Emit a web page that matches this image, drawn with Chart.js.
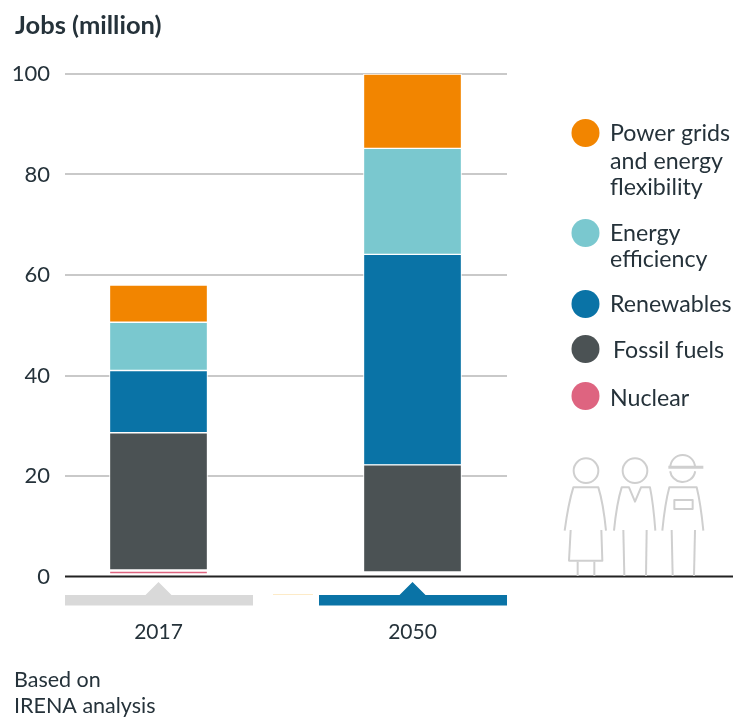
<!DOCTYPE html>
<html>
<head>
<meta charset="utf-8">
<script src="https://cdn.jsdelivr.net/npm/chart.js@4"></script>
<style>
html,body{margin:0;padding:0;background:#fff}
#wrap{width:733px;height:717px}
canvas{display:block}
</style>
</head>
<body>
<div id="wrap"><canvas id="c" width="733" height="717"></canvas></div>
<script>
// Jobs by energy segment, in millions; each entry is the [bottom, top] span of a segment.
const years = ['2017', '2050'];
const yTicks = [0, 20, 40, 60, 80, 100];
const nuclear = [[0.5, 1.1], null];
const fossilFuels = [[1.3, 28.6], [0.9, 22.2]];
const renewables = [[28.6, 41], [22.2, 64.1]];
const energyEfficiency = [[41, 50.6], [64.1, 85.2]];
const powerGrids = [[50.6, 58], [85.2, 100]];

const seriesNames = ['Nuclear', 'Fossil fuels', 'Renewables', 'Energy efficiency', 'Power grids and energy flexibility'];
const seriesValues = [nuclear, fossilFuels, renewables, energyEfficiency, powerGrids];
const seriesColors = ['#DE6480', '#4B5254', '#0A73A6', '#7AC8CF', '#F28500'];
const scenarioMarkerColors = ['#D9D9D9', '#0A73A6'];

const FONT = 'Lato, sans-serif';
const TEXT = '#25323A';

// Legend rows, top to bottom.
const legendRows = [
  {color: '#F28500', cy: 133, x: 610, lines: [['Power grids', 134], ['and energy', 162], ['flexibility', 188]]},
  {color: '#7AC8CF', cy: 233, x: 610, lines: [['Energy', 234], ['efficiency', 260]]},
  {color: '#0A73A6', cy: 304, x: 610, lines: [['Renewables', 305]]},
  {color: '#4B5254', cy: 349, x: 613, lines: [['Fossil fuels', 351]]},
  {color: '#DE6480', cy: 396, x: 610, lines: [['Nuclear', 399]]}
];

function stroke(ctx, pts) {
  ctx.beginPath();
  pts.forEach((p, i) => {
    if (i === 0) ctx.moveTo(p[0], p[1]);
    else if (p.length === 4) ctx.quadraticCurveTo(p[0], p[1], p[2], p[3]);
    else ctx.lineTo(p[0], p[1]);
  });
  ctx.stroke();
}

// Line-art group of three workers standing on the baseline.
function drawWorkers(ctx) {
  ctx.save();
  ctx.translate(530, 440);
  ctx.scale(1 / 3, 1 / 3);
  ctx.strokeStyle = '#CFCFCF';
  ctx.lineWidth = 6;
  ctx.lineJoin = 'round';
  // woman
  ctx.beginPath(); ctx.arc(168, 92, 37, 0, Math.PI * 2); ctx.stroke();
  stroke(ctx, [[104, 272], [115, 190, 130, 142], [205, 142], [220, 190, 228, 272]]);
  stroke(ctx, [[122, 270], [117, 362], [217, 362], [214, 270]]);
  stroke(ctx, [[143, 365], [143, 408]]);
  stroke(ctx, [[193, 365], [193, 408]]);
  // man in a suit
  ctx.beginPath(); ctx.arc(315, 92, 37, 0, Math.PI * 2); ctx.stroke();
  stroke(ctx, [[252, 272], [260, 190, 275, 142], [297, 142], [315, 185], [333, 142], [360, 142], [370, 190, 376, 272]]);
  stroke(ctx, [[280, 270], [283, 408]]);
  stroke(ctx, [[350, 270], [348, 408]]);
  // worker with a cap and badge
  ctx.beginPath(); ctx.arc(458, 88, 38, 0.15, Math.PI - 0.15); ctx.stroke();
  ctx.beginPath(); ctx.arc(458, 82, 37, Math.PI, 0); ctx.stroke();
  ctx.lineWidth = 9;
  stroke(ctx, [[415, 82], [520, 82]]);
  ctx.lineWidth = 6;
  stroke(ctx, [[397, 272], [405, 190, 418, 142], [500, 142], [512, 190, 520, 272]]);
  ctx.strokeRect(433, 180, 55, 27);
  stroke(ctx, [[425, 270], [428, 408]]);
  stroke(ctx, [[495, 270], [492, 408]]);
  ctx.restore();
}

const annotations = {
  id: 'annotations',
  afterDatasetsDraw(chart) {
    const {ctx, scales: {x, y}} = chart;
    const base = y.getPixelForValue(0);

    // baseline runs past the plot, under the workers
    ctx.save();
    ctx.strokeStyle = '#222';
    ctx.lineWidth = 2;
    ctx.beginPath(); ctx.moveTo(65, base); ctx.lineTo(733, base); ctx.stroke();

    // scenario markers below the baseline
    years.forEach((_, i) => {
      const cx = x.getPixelForValue(i);
      ctx.fillStyle = scenarioMarkerColors[i];
      ctx.beginPath();
      ctx.moveTo(cx - 93.5, base + 18.5);
      ctx.lineTo(cx - 13, base + 18.5);
      ctx.lineTo(cx, base + 5.5);
      ctx.lineTo(cx + 13, base + 18.5);
      ctx.lineTo(cx + 94.5, base + 18.5);
      ctx.lineTo(cx + 94.5, base + 29);
      ctx.lineTo(cx - 93.5, base + 29);
      ctx.closePath();
      ctx.fill();
    });
    ctx.strokeStyle = '#FDEBC8';
    ctx.lineWidth = 1;
    ctx.beginPath(); ctx.moveTo(273, 594.5); ctx.lineTo(313, 594.5); ctx.stroke();

    drawWorkers(ctx);

    // heading and source note
    ctx.textBaseline = 'middle';
    ctx.textAlign = 'left';
    ctx.fillStyle = TEXT;
    ctx.font = `bold 25.5px ${FONT}`;
    ctx.fillText('Jobs (million)', 15, 26);
    ctx.font = `21.5px ${FONT}`;
    ctx.fillText('Based on', 14, 680);
    ctx.fillText('IRENA analysis', 14, 706);

    // legend
    ctx.font = `23.2px ${FONT}`;
    legendRows.forEach(row => {
      ctx.fillStyle = row.color;
      ctx.beginPath(); ctx.arc(585.5, row.cy, 14, 0, Math.PI * 2); ctx.fill();
      ctx.fillStyle = TEXT;
      row.lines.forEach(([t, ly]) => ctx.fillText(t, row.x, ly));
    });
    ctx.restore();
  }
};

new Chart(document.getElementById('c'), {
  type: 'bar',
  data: {
    datasets: seriesValues.map((vals, i) => ({
      label: seriesNames[i],
      data: vals.map((v, k) => v && ({x: k, y: v})).filter(Boolean),
      backgroundColor: seriesColors[i],
      borderColor: '#fff',
      borderWidth: 1,
      borderSkipped: false,
      barThickness: 98
    }))
  },
  plugins: [annotations],
  options: {
    responsive: false,
    animation: false,
    layout: {padding: {top: 74, right: 226, bottom: 0, left: 0}},
    plugins: {legend: {display: false}, tooltip: {enabled: false}, title: {display: false}},
    scales: {
      x: {
        type: 'linear',
        offset: false,
        stacked: true,
        min: -0.3681,
        max: 1.372,
        afterBuildTicks(s) { s.ticks = years.map((_, i) => ({value: i})); },
        afterFit(s) { s.height = 140.5; },
        border: {display: false},
        grid: {display: false, drawTicks: false},
        ticks: {
          autoSkip: false,
          maxRotation: 0,
          padding: 43,
          color: TEXT,
          font: {family: FONT, size: 21},
          callback: v => years[v]
        }
      },
      y: {
        min: 0,
        max: 100,
        afterBuildTicks(s) { s.ticks = yTicks.map(v => ({value: v})); },
        afterFit(s) { s.width = 65; },
        border: {display: false},
        grid: {
          drawTicks: false,
          color: c => c.tick.value === 0 ? 'rgba(0,0,0,0)' : '#C9C9C9',
          lineWidth: 2
        },
        ticks: {
          padding: 15,
          color: TEXT,
          font: {family: FONT, size: 22}
        }
      }
    }
  }
});
</script>
</body>
</html>
